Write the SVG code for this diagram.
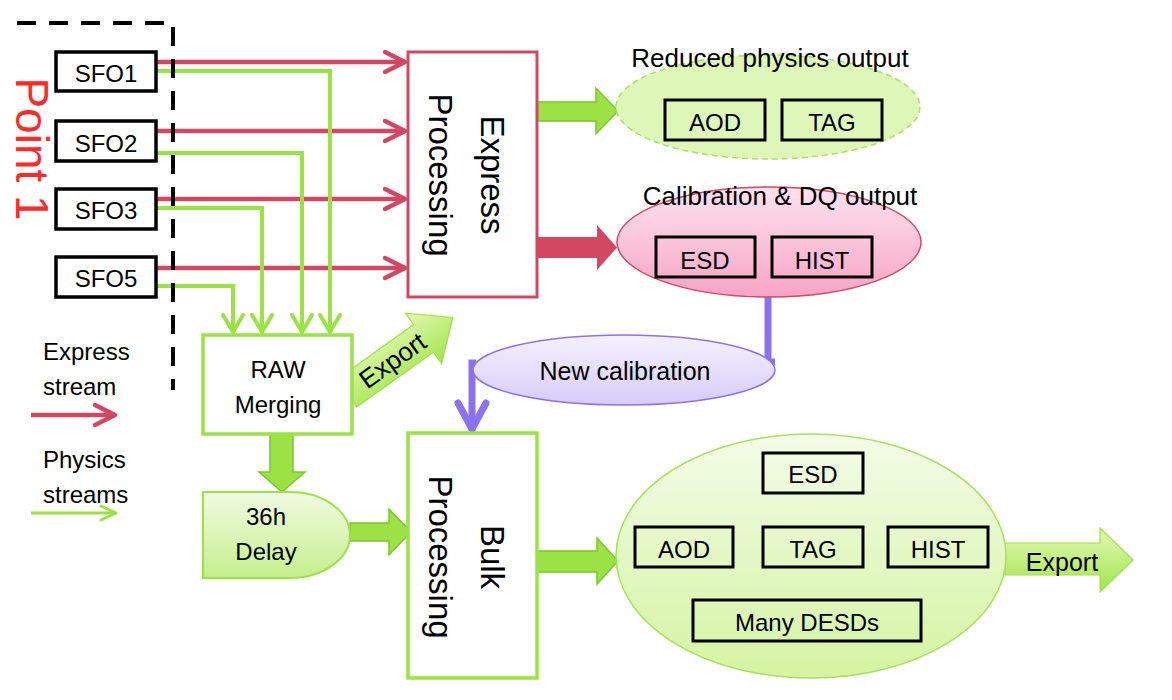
<svg xmlns="http://www.w3.org/2000/svg" width="1172" height="700" viewBox="0 0 1172 700">
<style>
text{font-family:"Liberation Sans",Arial,sans-serif;fill:#000}
.lbl{font-size:24px;text-anchor:middle}
.big{font-size:33px;text-anchor:middle}
.ttl{font-size:26px;text-anchor:middle}
.leg{font-size:24px}
.sfo{fill:#fff;stroke:#000;stroke-width:3.5}
.ibox{fill:none;stroke:#000;stroke-width:3}
.red{fill:none;stroke:#d24862;stroke-width:4.5}
.grn{fill:none;stroke:#9be344;stroke-width:4}
.blkG{fill:#9be344;stroke:#7cc62e;stroke-width:1.5}
.blkR{fill:#d24862;stroke:none}
.pur{fill:none;stroke:#8b72ee;stroke-width:7}
</style>
<defs>
<marker id="mRed" markerUnits="userSpaceOnUse" viewBox="-26 -14 30 28" markerWidth="30" markerHeight="28" refX="0" refY="0" orient="auto">
<path d="M-20,-10 L0,0 L-20,10" fill="none" stroke="#d24862" stroke-width="4.5" stroke-linecap="round" stroke-linejoin="round"/>
</marker>
<marker id="mGrn" markerUnits="userSpaceOnUse" viewBox="-26 -14 30 28" markerWidth="30" markerHeight="28" refX="0" refY="0" orient="auto">
<path d="M-17,-10 L0,0 L-17,10" fill="none" stroke="#9be344" stroke-width="4" stroke-linecap="round" stroke-linejoin="round"/>
</marker>
<marker id="mGrnS" markerUnits="userSpaceOnUse" viewBox="-20 -10 24 20" markerWidth="24" markerHeight="20" refX="0" refY="0" orient="auto">
<path d="M-15,-7 L0,0 L-15,7" fill="none" stroke="#9be344" stroke-width="3" stroke-linecap="round" stroke-linejoin="round"/>
</marker>
<marker id="mPur" markerUnits="userSpaceOnUse" viewBox="-36 -20 40 40" markerWidth="40" markerHeight="40" refX="0" refY="0" orient="auto">
<path d="M-28,-14 L-2,0 L-28,14" fill="none" stroke="#8b72ee" stroke-width="7" stroke-linecap="round" stroke-linejoin="round"/>
</marker>
<linearGradient id="gPink" x1="0" y1="0" x2="0" y2="1"><stop offset="0" stop-color="#fde3ef"/><stop offset="1" stop-color="#f7a4c5"/></linearGradient>
<linearGradient id="gLav" x1="0" y1="0" x2="0" y2="1"><stop offset="0" stop-color="#f5f1fe"/><stop offset="1" stop-color="#d7ccf8"/></linearGradient>
<linearGradient id="gBig" x1="0" y1="0" x2="0" y2="1"><stop offset="0" stop-color="#f3fce8"/><stop offset="1" stop-color="#d5f4a2"/></linearGradient>
<linearGradient id="gDelay" x1="0" y1="0" x2="0" y2="1"><stop offset="0" stop-color="#f0fbe2"/><stop offset="1" stop-color="#c6ee8c"/></linearGradient>
<linearGradient id="gExp" x1="0" y1="0" x2="0" y2="1"><stop offset="0" stop-color="#e2f9b6"/><stop offset="1" stop-color="#a4e44c"/></linearGradient>
</defs>

<!-- connectors -->
<g id="connectors">
<line class="red" x1="156" y1="62" x2="405" y2="62" marker-end="url(#mRed)"/>
<line class="red" x1="156" y1="131" x2="405" y2="131" marker-end="url(#mRed)"/>
<line class="red" x1="156" y1="199" x2="405" y2="199" marker-end="url(#mRed)"/>
<line class="red" x1="156" y1="268" x2="405" y2="268" marker-end="url(#mRed)"/>
<polyline class="grn" points="156,71 330,71 330,332" marker-end="url(#mGrn)"/>
<polyline class="grn" points="152,153 302,153 302,332" marker-end="url(#mGrn)"/>
<polyline class="grn" points="156,208 262,208 262,332" marker-end="url(#mGrn)"/>
<polyline class="grn" points="156,286 233,286 233,332" marker-end="url(#mGrn)"/>
<polygon class="blkG" points="537,102 596,102 596,88 618,111 596,134 596,121 537,121"/>
<polygon class="blkR" points="537,237 597,237 597,225 617,247.5 597,270 597,258 537,258"/>
<polygon class="blkG" points="270,434 293,434 293,472 305,472 282,492 259,472 270,472"/>
<polygon class="blkG" points="350,523 389,523 389,509 411,532 389,555 389,541 350,541"/>
<polygon class="blkG" points="537,551 597,551 597,538 618,561 597,584 597,572 537,572"/>
<polyline class="pur" points="768,297 768,362 775,362"/>
<polyline class="pur" points="476,363 472,363 472,431" marker-end="url(#mPur)"/>
<g id="export-diag" transform="translate(347,393) rotate(-35.5)">
<path d="M0,-17 H94 V-31 L130,0 L94,31 V17 H0 Z" fill="url(#gExp)" stroke="#9be344" stroke-width="1.2"/>
<text x="56" y="9" class="lbl" style="font-size:26px">Export</text>
</g>
<g id="export-right">
<path d="M1005,543 H1100 V528 L1133,560 L1100,592 V575 H1005 Z" fill="url(#gExp)" stroke="#9be344" stroke-width="1.2"/>
<text x="1062" y="571" class="lbl" style="font-size:25px">Export</text>
</g>
</g>

<!-- SFO nodes -->
<g id="sfo1"><rect class="sfo" x="56" y="52" width="100" height="39"/><text class="lbl" x="106" y="82">SFO1</text></g>
<g id="sfo2"><rect class="sfo" x="56" y="121" width="100" height="40"/><text class="lbl" x="106" y="152">SFO2</text></g>
<g id="sfo3"><rect class="sfo" x="56" y="189" width="100" height="40"/><text class="lbl" x="106" y="219">SFO3</text></g>
<g id="sfo5"><rect class="sfo" x="56" y="257" width="100" height="40"/><text class="lbl" x="106" y="287">SFO5</text></g>

<!-- Point 1 boundary -->
<g id="point1">
<path d="M17,23 H173 V390" fill="none" stroke="#000" stroke-width="4" stroke-dasharray="19 13"/>
<text transform="translate(16,149) rotate(90)" x="0" y="0" style="font-size:46px;text-anchor:middle;fill:#ff2a2a">Point 1</text>
</g>

<!-- Express processing -->
<g id="express">
<rect x="408" y="52" width="129" height="245" fill="#fff" stroke="#d24862" stroke-width="3"/>
<g transform="translate(472,175) rotate(90)">
<text class="big" x="0" y="-9">Express</text>
<text class="big" x="0" y="43">Processing</text>
</g>
</g>

<!-- Reduced physics output -->
<g id="reduced">
<ellipse cx="768" cy="107" rx="152" ry="52" fill="#def7b8" stroke="#a6e25a" stroke-width="1.5" stroke-dasharray="6 4"/>
<text class="ttl" x="770" y="67">Reduced physics output</text>
<rect class="ibox" x="665" y="100" width="100" height="40"/><text class="lbl" x="715" y="131">AOD</text>
<rect class="ibox" x="782" y="100" width="100" height="40"/><text class="lbl" x="832" y="131">TAG</text>
</g>

<!-- Calibration & DQ output -->
<g id="calib">
<ellipse cx="769" cy="242" rx="152" ry="55" fill="url(#gPink)" stroke="#d24862" stroke-width="1.5"/>
<text class="ttl" x="780" y="205">Calibration &amp; DQ output</text>
<rect class="ibox" x="656" y="237" width="99" height="40"/><text class="lbl" x="705" y="269">ESD</text>
<rect class="ibox" x="772" y="237" width="100" height="40"/><text class="lbl" x="822" y="269">HIST</text>
</g>

<!-- New calibration -->
<g id="newcal">
<ellipse cx="624" cy="370" rx="151" ry="35" fill="url(#gLav)" stroke="#8b72ee" stroke-width="1.5"/>
<text class="lbl" x="625" y="380" style="font-size:25px">New calibration</text>
</g>

<!-- RAW merging -->
<g id="raw">
<rect x="203" y="335" width="149" height="99" fill="#fff" stroke="#9be344" stroke-width="3.5"/>
<text class="lbl" x="278" y="378">RAW</text>
<text class="lbl" x="278" y="413">Merging</text>
</g>

<!-- 36h Delay -->
<g id="delay">
<path d="M203,492 H290 A60,43 0 0 1 290,578 H203 Z" fill="url(#gDelay)" stroke="#9be344" stroke-width="2"/>
<text class="lbl" x="266" y="525">36h</text>
<text class="lbl" x="266" y="560">Delay</text>
</g>

<!-- Bulk processing -->
<g id="bulk">
<rect x="408" y="433" width="129" height="245" fill="#fff" stroke="#9be344" stroke-width="3.5"/>
<g transform="translate(472,557) rotate(90)">
<text class="big" x="0" y="-9">Bulk</text>
<text class="big" x="0" y="43">Processing</text>
</g>
</g>

<!-- Bulk output -->
<g id="bulkout">
<ellipse cx="811" cy="556" rx="195" ry="122" fill="url(#gBig)" stroke="#a6e25a" stroke-width="1.5"/>
<rect class="ibox" x="763" y="453" width="100" height="40"/><text class="lbl" x="813" y="483">ESD</text>
<rect class="ibox" x="635" y="527" width="98" height="40"/><text class="lbl" x="684" y="558">AOD</text>
<rect class="ibox" x="763" y="527" width="100" height="40"/><text class="lbl" x="813" y="558">TAG</text>
<rect class="ibox" x="888" y="527" width="100" height="40"/><text class="lbl" x="938" y="558">HIST</text>
<rect class="ibox" x="693" y="600" width="228" height="41"/><text class="lbl" x="807" y="631">Many DESDs</text>
</g>

<!-- Legend -->
<g id="legend">
<text class="leg" x="43" y="360">Express</text>
<text class="leg" x="43" y="395">stream</text>
<line class="red" x1="31" y1="415" x2="115" y2="415" marker-end="url(#mRed)"/>
<text class="leg" x="43" y="468">Physics</text>
<text class="leg" x="43" y="503">streams</text>
<line x1="31" y1="513" x2="116" y2="513" stroke="#9be344" stroke-width="3" marker-end="url(#mGrnS)"/>
</g>
</svg>
